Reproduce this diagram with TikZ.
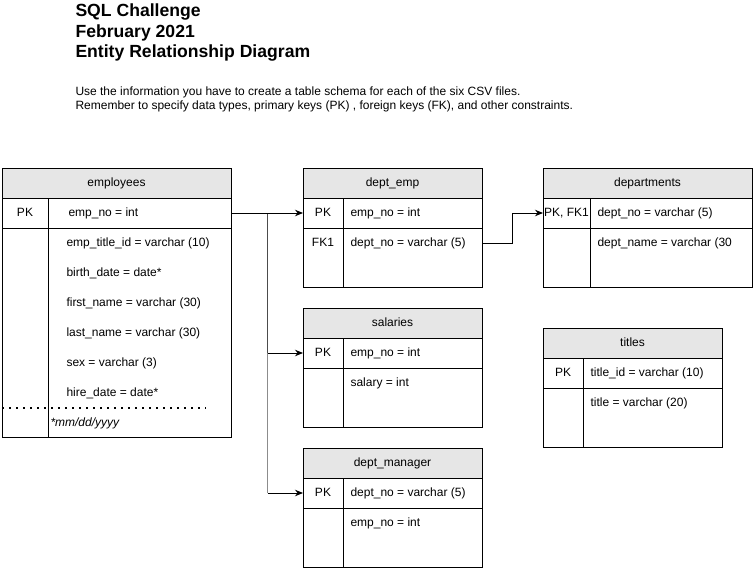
\documentclass[tikz,border=0pt]{standalone}
\usepackage{fontspec}
\setmainfont{Liberation Sans}
\usetikzlibrary{arrows.meta,calc}
\definecolor{hdrgray}{HTML}{E6E6E6}

\begin{document}
\begin{tikzpicture}[x=1pt,y=-1pt,line width=1pt,
	conn/.style={-{Stealth[length=8pt,width=6.5pt]},line width=1pt},
	hdr/.style={draw,fill=hdrgray,anchor=north west,minimum height=30pt,inner sep=0pt,outer sep=0pt,font=\fontsize{12}{14}\selectfont,text height=9pt,text depth=3pt},
	keycell/.style={draw,anchor=north west,minimum height=30pt,inner sep=0pt,outer sep=0pt,font=\fontsize{12}{14}\selectfont,text height=9pt,text depth=3pt},
	keytxt/.style={inner sep=0pt,font=\fontsize{12}{14}\selectfont,text height=9pt,text depth=3pt},
	fld/.style={anchor=west,inner sep=0pt,font=\fontsize{12}{14}\selectfont,text height=9pt,text depth=3pt},
	ttl/.style={anchor=base west,inner sep=0pt,font=\bfseries\fontsize{17.6}{20}\selectfont},
	info/.style={anchor=base west,inner sep=0pt,font=\fontsize{12}{14}\selectfont}]

	\useasboundingbox (0,0) rectangle (753,568);

	% heading
	\node[ttl] (ttl1) at (75,16.8) {SQL Challenge};
	\node[ttl] (ttl2) at (75,37.3) {February 2021};
	\node[ttl] (ttl3) at (75,57.8) {Entity Relationship Diagram};
	\node[info] (info1) at (75,95) {Use the information you have to create a table schema for each of the six CSV files.};
	\node[info] (info2) at (75,109) {Remember to specify data types, primary keys (PK) , foreign keys (FK), and other constraints.};

	% employees
	\node[hdr,minimum width=229pt] (emp) at (2,168) {employees};
	\node[keycell,minimum width=46pt] (empk) at (2,198) {PK};
	\node[keycell,minimum width=183pt] (empf) at (48,198) {};
	\node[keycell,minimum width=46pt,minimum height=209pt] (empkb) at (2,228) {};
	\node[keycell,minimum width=183pt,minimum height=209pt] (empfb) at (48,228) {};
	\node[fld] (empno) at (68,213) {emp\_no = int};
	\node[fld] (emptid) at (66,243) {emp\_title\_id = varchar (10)};
	\node[fld] (empbd) at (66,273) {birth\_date = date*};
	\node[fld] (empfn) at (66,303) {first\_name = varchar (30)};
	\node[fld] (empln) at (66,333) {last\_name = varchar (30)};
	\node[fld] (empsex) at (66,363) {sex = varchar (3)};
	\node[fld] (emphd) at (66,393) {hire\_date = date*};
	\draw[line width=1.5pt,dash pattern=on 1.5pt off 5.5pt] (2,408) -- (206,408);
	\node[fld,font=\fontsize{12}{14}\selectfont\itshape] (empfmt) at (50,423) {*mm/dd/yyyy};

	% dept_emp
	\node[hdr,minimum width=179pt] (de) at (303,168) {dept\_emp};
	\node[keycell,minimum width=40pt] (dek) at (303,198) {PK};
	\node[keycell,minimum width=139pt] (def) at (343,198) {};
	\node[keycell,minimum width=40pt,minimum height=59pt] (dekb) at (303,228) {};
	\node[keycell,minimum width=139pt,minimum height=59pt] (defb) at (343,228) {};
	\node[fld] (deeno) at (350,213) {emp\_no = int};
	\node[keytxt] (defk) at (323,243) {FK1};
	\node[fld] (dedno) at (350,243) {dept\_no = varchar (5)};

	% departments
	\node[hdr,minimum width=209pt] (dep) at (543,168) {departments};
	\node[keycell,minimum width=47pt] (depk) at (543,198) {PK, FK1};
	\node[keycell,minimum width=162pt] (depf) at (590,198) {};
	\node[keycell,minimum width=47pt,minimum height=59pt] (depkb) at (543,228) {};
	\node[keycell,minimum width=162pt,minimum height=59pt] (depfb) at (590,228) {};
	\node[fld] (depdno) at (597,213) {dept\_no = varchar (5)};
	\node[fld] (depdname) at (597,243) {dept\_name = varchar (30};

	% salaries
	\node[hdr,minimum width=179pt] (sal) at (303,308) {salaries};
	\node[keycell,minimum width=40pt] (salk) at (303,338) {PK};
	\node[keycell,minimum width=139pt] (salf) at (343,338) {};
	\node[keycell,minimum width=40pt,minimum height=59pt] (salkb) at (303,368) {};
	\node[keycell,minimum width=139pt,minimum height=59pt] (salfb) at (343,368) {};
	\node[fld] (saleno) at (350,353) {emp\_no = int};
	\node[fld] (salsal) at (350,383) {salary = int};

	% dept_manager
	\node[hdr,minimum width=179pt] (dm) at (303,448) {dept\_manager};
	\node[keycell,minimum width=40pt] (dmk) at (303,478) {PK};
	\node[keycell,minimum width=139pt] (dmf) at (343,478) {};
	\node[keycell,minimum width=40pt,minimum height=59pt] (dmkb) at (303,508) {};
	\node[keycell,minimum width=139pt,minimum height=59pt] (dmfb) at (343,508) {};
	\node[fld] (dmdno) at (350,493) {dept\_no = varchar (5)};
	\node[fld] (dmeno) at (350,523) {emp\_no = int};

	% titles
	\node[hdr,minimum width=179pt] (tit) at (543,328) {titles};
	\node[keycell,minimum width=40pt] (titk) at (543,358) {PK};
	\node[keycell,minimum width=139pt] (titf) at (583,358) {};
	\node[keycell,minimum width=40pt,minimum height=59pt] (titkb) at (543,388) {};
	\node[keycell,minimum width=139pt,minimum height=59pt] (titfb) at (583,388) {};
	\node[fld] (titid) at (590,373) {title\_id = varchar (10)};
	\node[fld] (tittl) at (590,403) {title = varchar (20)};

	% relations
	\coordinate (br) at ($(empf.east)!0.51!(dek.west)$);
	\draw[black!70] (br) -- (br |- salk.west);
	\draw[black!45] (br |- salk.west) -- (br |- dmk.west);
	\draw[conn] (empf.east) -- (dek.west);
	\draw[conn] (br |- salk.west) -- (salk.west);
	\draw[conn] (br |- dmk.west) -- (dmk.west);
	\draw[conn] (defb.east |- dedno) -- ++(30,0) |- (depk.west);
\end{tikzpicture}
\end{document}
